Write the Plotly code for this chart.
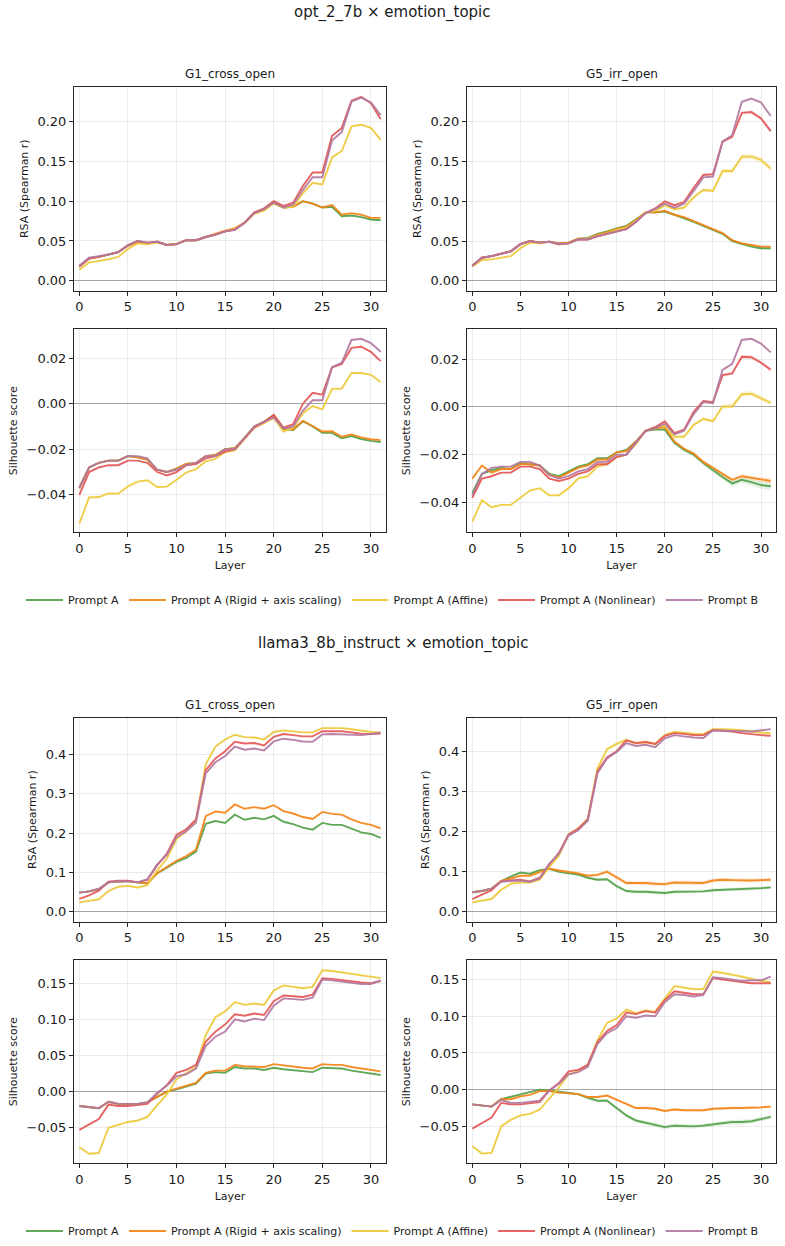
import plotly.graph_objects as go

LAYERS = list(range(32))
SERIES = ["Prompt A", "Prompt A (Rigid + axis scaling)", "Prompt A (Affine)", "Prompt A (Nonlinear)", "Prompt B"]
COLORS = ["#54a24b", "#f58518", "#eeca3b", "#e45756", "#b279a2"]
BAND_COLORS = ["rgba(84,162,75,0.16)", "rgba(245,133,24,0.16)", "rgba(238,202,59,0.2)", "rgba(228,87,86,0.16)", "rgba(178,121,162,0.16)"]
MODELS = ["opt_2_7b × emotion_topic", "llama3_8b_instruct × emotion_topic"]
CONDS = ["G1_cross_open", "G5_irr_open"]
X_TICKS = [0, 5, 10, 15, 20, 25, 30]

# ---------------- opt_2_7b, G1_cross_open, RSA ----------------
opt_g1_rsa_a = [0.018, 0.028, 0.030, 0.033, 0.036, 0.044, 0.049, 0.047, 0.049, 0.045, 0.046, 0.051, 0.051, 0.055, 0.058, 0.062,
                0.065, 0.073, 0.085, 0.089, 0.098, 0.092, 0.093, 0.100, 0.097, 0.092, 0.093, 0.081, 0.082, 0.080, 0.077, 0.076]
opt_g1_rsa_rigid = [0.018, 0.028, 0.030, 0.033, 0.036, 0.044, 0.049, 0.047, 0.049, 0.045, 0.046, 0.051, 0.051, 0.055, 0.059, 0.063,
                    0.066, 0.073, 0.085, 0.089, 0.098, 0.092, 0.093, 0.100, 0.097, 0.092, 0.095, 0.083, 0.085, 0.083, 0.079, 0.079]
opt_g1_rsa_affine = [0.014, 0.023, 0.025, 0.027, 0.030, 0.040, 0.047, 0.046, 0.048, 0.045, 0.046, 0.051, 0.051, 0.055, 0.058, 0.062,
                     0.065, 0.073, 0.084, 0.088, 0.097, 0.092, 0.093, 0.110, 0.123, 0.121, 0.155, 0.163, 0.194, 0.196, 0.192, 0.177]
opt_g1_rsa_nonlin = [0.018, 0.028, 0.030, 0.033, 0.036, 0.045, 0.050, 0.048, 0.049, 0.045, 0.046, 0.051, 0.051, 0.055, 0.058, 0.062,
                     0.064, 0.073, 0.086, 0.091, 0.100, 0.094, 0.098, 0.119, 0.136, 0.136, 0.182, 0.192, 0.226, 0.231, 0.223, 0.203]
opt_g1_rsa_b = [0.019, 0.029, 0.031, 0.033, 0.036, 0.045, 0.050, 0.048, 0.049, 0.045, 0.046, 0.051, 0.051, 0.055, 0.058, 0.062,
                0.064, 0.073, 0.085, 0.090, 0.098, 0.092, 0.096, 0.114, 0.130, 0.130, 0.176, 0.187, 0.225, 0.230, 0.224, 0.208]

# ---------------- opt_2_7b, G5_irr_open, RSA ----------------
opt_g5_rsa_a = [0.019, 0.029, 0.031, 0.034, 0.037, 0.046, 0.050, 0.048, 0.049, 0.047, 0.048, 0.053, 0.054, 0.059, 0.062, 0.066,
                0.069, 0.077, 0.086, 0.086, 0.087, 0.083, 0.079, 0.074, 0.069, 0.064, 0.059, 0.050, 0.046, 0.043, 0.041, 0.041]
opt_g5_rsa_rigid = [0.019, 0.029, 0.031, 0.034, 0.037, 0.046, 0.050, 0.048, 0.049, 0.047, 0.048, 0.053, 0.053, 0.058, 0.061, 0.065,
                    0.068, 0.076, 0.086, 0.086, 0.088, 0.083, 0.080, 0.075, 0.070, 0.065, 0.060, 0.051, 0.047, 0.045, 0.043, 0.043]
opt_g5_rsa_affine = [0.018, 0.026, 0.027, 0.029, 0.031, 0.041, 0.048, 0.047, 0.049, 0.046, 0.047, 0.052, 0.053, 0.057, 0.060, 0.064,
                     0.067, 0.075, 0.086, 0.088, 0.095, 0.090, 0.092, 0.105, 0.114, 0.113, 0.138, 0.138, 0.156, 0.156, 0.152, 0.141]
opt_g5_rsa_nonlin = [0.019, 0.029, 0.031, 0.034, 0.037, 0.046, 0.050, 0.048, 0.049, 0.046, 0.047, 0.052, 0.052, 0.056, 0.059, 0.062,
                     0.065, 0.074, 0.085, 0.091, 0.100, 0.095, 0.099, 0.117, 0.133, 0.134, 0.175, 0.181, 0.211, 0.212, 0.204, 0.188]
opt_g5_rsa_b = [0.019, 0.029, 0.031, 0.034, 0.037, 0.046, 0.050, 0.048, 0.049, 0.046, 0.047, 0.052, 0.052, 0.056, 0.059, 0.062,
                0.065, 0.074, 0.085, 0.090, 0.097, 0.092, 0.097, 0.113, 0.130, 0.131, 0.175, 0.183, 0.225, 0.229, 0.224, 0.207]
# spread (half-width of shaded band)
opt_g5_rsa_a_sd = [0.0005] * 20 + [0.0008, 0.0008, 0.001, 0.001, 0.001, 0.0012, 0.0012, 0.0012, 0.0014, 0.0014, 0.0015, 0.0015]
opt_g5_rsa_affine_sd = [0.0005] * 18 + [0.001, 0.0015, 0.002, 0.002, 0.002, 0.002, 0.0025, 0.0025, 0.003, 0.003, 0.0035, 0.0035, 0.0035, 0.0035]
opt_g5_rsa_nonlin_sd = [0.0005] * 20 + [0.001, 0.001, 0.001, 0.001, 0.0015, 0.0015, 0.002, 0.002, 0.002, 0.002, 0.002, 0.002]

# ---------------- opt_2_7b, G1_cross_open, Silhouette ----------------
opt_g1_sil_a = [-0.037, -0.028, -0.026, -0.025, -0.025, -0.023, -0.0235, -0.0245, -0.029, -0.030, -0.0285, -0.0265, -0.026, -0.023, -0.0225, -0.020,
                -0.0195, -0.015, -0.010, -0.008, -0.005, -0.011, -0.0115, -0.0077, -0.010, -0.0128, -0.0128, -0.0152, -0.0142, -0.0155, -0.0163, -0.0168]
opt_g1_sil_rigid = [-0.037, -0.028, -0.026, -0.025, -0.025, -0.023, -0.0235, -0.0245, -0.029, -0.030, -0.0285, -0.0265, -0.026, -0.023, -0.0225, -0.020,
                    -0.0195, -0.015, -0.010, -0.008, -0.005, -0.011, -0.0113, -0.0075, -0.0098, -0.0122, -0.0121, -0.0145, -0.0135, -0.0148, -0.0156, -0.0160]
opt_g1_sil_affine = [-0.0526, -0.0412, -0.041, -0.0394, -0.0395, -0.0363, -0.0342, -0.0336, -0.0366, -0.0364, -0.0334, -0.0302, -0.0287, -0.0253, -0.0242, -0.0212,
                     -0.0205, -0.0155, -0.0105, -0.0085, -0.0062, -0.0122, -0.0105, -0.0042, -0.001, -0.0025, 0.0065, 0.0067, 0.0135, 0.0135, 0.0127, 0.0095]
opt_g1_sil_nonlin = [-0.040, -0.030, -0.028, -0.027, -0.027, -0.025, -0.025, -0.026, -0.030, -0.0315, -0.030, -0.027, -0.0265, -0.024, -0.023, -0.021,
                     -0.020, -0.015, -0.0105, -0.008, -0.005, -0.0105, -0.009, 0.000, 0.0048, 0.004, 0.016, 0.0175, 0.0245, 0.025, 0.0228, 0.0187]
opt_g1_sil_b = [-0.037, -0.028, -0.026, -0.025, -0.025, -0.023, -0.023, -0.024, -0.029, -0.030, -0.029, -0.027, -0.026, -0.023, -0.023, -0.020,
                -0.020, -0.015, -0.010, -0.008, -0.006, -0.011, -0.010, -0.003, 0.0015, 0.0015, 0.016, 0.018, 0.028, 0.0285, 0.0266, 0.0228]

# ---------------- opt_2_7b, G5_irr_open, Silhouette ----------------
opt_g5_sil_a = [-0.036, -0.028, -0.0265, -0.0255, -0.026, -0.0235, -0.024, -0.0245, -0.028, -0.029, -0.027, -0.025, -0.024, -0.0215, -0.0215, -0.019,
                -0.018, -0.0145, -0.010, -0.0095, -0.0095, -0.015, -0.018, -0.020, -0.0235, -0.0265, -0.0293, -0.032, -0.0305, -0.0315, -0.0327, -0.0332]
opt_g5_sil_rigid = [-0.030, -0.0245, -0.0275, -0.026, -0.026, -0.024, -0.024, -0.0245, -0.0285, -0.0295, -0.0275, -0.0255, -0.0245, -0.022, -0.022, -0.019,
                    -0.0185, -0.0145, -0.010, -0.009, -0.0085, -0.0145, -0.0175, -0.0195, -0.023, -0.0255, -0.0283, -0.0305, -0.029, -0.0297, -0.0305, -0.031]
opt_g5_sil_affine = [-0.048, -0.039, -0.042, -0.041, -0.041, -0.038, -0.035, -0.034, -0.037, -0.037, -0.034, -0.030, -0.029, -0.025, -0.024, -0.021,
                     -0.020, -0.0155, -0.010, -0.0085, -0.008, -0.0125, -0.0125, -0.0075, -0.005, -0.006, 0.0002, 0.0002, 0.0053, 0.0055, 0.0037, 0.0017]
opt_g5_sil_nonlin = [-0.038, -0.030, -0.029, -0.0275, -0.0275, -0.025, -0.025, -0.026, -0.030, -0.031, -0.030, -0.028, -0.027, -0.024, -0.024, -0.021,
                     -0.020, -0.015, -0.010, -0.0085, -0.006, -0.011, -0.0095, -0.002, 0.0025, 0.002, 0.0133, 0.014, 0.021, 0.0208, 0.0185, 0.0155]
opt_g5_sil_b = [-0.037, -0.028, -0.0255, -0.025, -0.025, -0.023, -0.023, -0.0245, -0.0285, -0.030, -0.029, -0.027, -0.026, -0.023, -0.023, -0.020,
                -0.020, -0.015, -0.010, -0.009, -0.007, -0.0115, -0.010, -0.003, 0.002, 0.0015, 0.0155, 0.018, 0.028, 0.0285, 0.0265, 0.0228]
opt_g5_sil_a_sd = [0.0003] * 20 + [0.0005, 0.0006, 0.0007, 0.0008, 0.0009, 0.001, 0.0011, 0.0012, 0.0013, 0.0014, 0.0015, 0.0016]
opt_g5_sil_rigid_sd = [0.0003] * 20 + [0.0004, 0.0005, 0.0005, 0.0006, 0.0006, 0.0007, 0.0008, 0.0008, 0.0009, 0.0009, 0.001, 0.001]
opt_g5_sil_affine_sd = [0.0003] * 20 + [0.0005, 0.0005, 0.0006, 0.0006, 0.0007, 0.0008, 0.0009, 0.001, 0.001, 0.001, 0.001, 0.001]
opt_g5_sil_nonlin_sd = [0.0003] * 24 + [0.0005, 0.0005, 0.0006, 0.0007, 0.0008, 0.0008, 0.0008, 0.0008]

# ---------------- llama3_8b_instruct, G1_cross_open, RSA ----------------
llama_g1_rsa_a = [0.049, 0.052, 0.058, 0.075, 0.077, 0.078, 0.075, 0.072, 0.098, 0.113, 0.127, 0.137, 0.153, 0.224, 0.231, 0.226,
                  0.247, 0.234, 0.239, 0.235, 0.244, 0.229, 0.223, 0.214, 0.209, 0.226, 0.221, 0.221, 0.212, 0.202, 0.198, 0.188]
llama_g1_rsa_rigid = [0.049, 0.052, 0.058, 0.075, 0.077, 0.078, 0.075, 0.073, 0.098, 0.114, 0.130, 0.142, 0.158, 0.243, 0.255, 0.252,
                      0.273, 0.262, 0.266, 0.262, 0.271, 0.256, 0.250, 0.241, 0.236, 0.254, 0.249, 0.247, 0.235, 0.226, 0.221, 0.212]
llama_g1_rsa_affine = [0.024, 0.028, 0.032, 0.053, 0.064, 0.066, 0.062, 0.068, 0.105, 0.135, 0.185, 0.205, 0.230, 0.375, 0.420, 0.438,
                       0.450, 0.444, 0.443, 0.438, 0.457, 0.461, 0.459, 0.456, 0.456, 0.467, 0.467, 0.467, 0.464, 0.460, 0.457, 0.456]
llama_g1_rsa_nonlin = [0.033, 0.042, 0.054, 0.077, 0.079, 0.079, 0.075, 0.081, 0.118, 0.148, 0.196, 0.210, 0.235, 0.360, 0.390, 0.408,
                       0.432, 0.428, 0.429, 0.423, 0.445, 0.452, 0.449, 0.446, 0.446, 0.459, 0.459, 0.459, 0.456, 0.453, 0.452, 0.453]
llama_g1_rsa_b = [0.049, 0.052, 0.058, 0.075, 0.078, 0.078, 0.075, 0.083, 0.120, 0.145, 0.190, 0.205, 0.227, 0.352, 0.380, 0.396,
                  0.420, 0.412, 0.415, 0.410, 0.433, 0.440, 0.437, 0.433, 0.432, 0.451, 0.452, 0.451, 0.450, 0.449, 0.452, 0.455]

# ---------------- llama3_8b_instruct, G5_irr_open, RSA ----------------
llama_g5_rsa_a = [0.049, 0.052, 0.058, 0.076, 0.088, 0.098, 0.095, 0.104, 0.107, 0.100, 0.096, 0.093, 0.085, 0.080, 0.081, 0.064,
                  0.052, 0.050, 0.050, 0.048, 0.047, 0.050, 0.050, 0.050, 0.051, 0.054, 0.055, 0.056, 0.056, 0.057, 0.059, 0.061]
llama_g5_rsa_rigid = [0.049, 0.052, 0.058, 0.077, 0.083, 0.090, 0.090, 0.100, 0.108, 0.103, 0.100, 0.096, 0.090, 0.092, 0.100, 0.085,
                      0.072, 0.072, 0.072, 0.070, 0.069, 0.073, 0.073, 0.072, 0.072, 0.078, 0.080, 0.079, 0.078, 0.078, 0.079, 0.080]
llama_g5_rsa_affine = [0.024, 0.028, 0.032, 0.055, 0.070, 0.073, 0.073, 0.080, 0.112, 0.140, 0.193, 0.208, 0.232, 0.357, 0.405, 0.418,
                       0.428, 0.420, 0.423, 0.418, 0.440, 0.448, 0.445, 0.443, 0.442, 0.455, 0.455, 0.454, 0.452, 0.449, 0.446, 0.444]
llama_g5_rsa_nonlin = [0.032, 0.042, 0.054, 0.076, 0.078, 0.080, 0.076, 0.085, 0.118, 0.147, 0.193, 0.207, 0.230, 0.350, 0.385, 0.400,
                       0.427, 0.420, 0.423, 0.418, 0.438, 0.445, 0.443, 0.440, 0.440, 0.452, 0.451, 0.449, 0.445, 0.442, 0.440, 0.438]
llama_g5_rsa_b = [0.049, 0.052, 0.058, 0.075, 0.077, 0.078, 0.075, 0.083, 0.120, 0.145, 0.190, 0.203, 0.227, 0.345, 0.382, 0.398,
                  0.420, 0.413, 0.416, 0.410, 0.432, 0.440, 0.437, 0.434, 0.433, 0.452, 0.451, 0.450, 0.449, 0.449, 0.452, 0.455]
llama_g5_rsa_a_sd = [0.001] * 8 + [0.002, 0.002, 0.002, 0.002, 0.003, 0.003, 0.003, 0.004] + [0.004] * 16
llama_g5_rsa_rigid_sd = [0.001] * 8 + [0.002, 0.002, 0.002, 0.003, 0.003, 0.004, 0.005, 0.005] + [0.005] * 16
llama_g5_rsa_affine_sd = [0.001] * 13 + [0.003, 0.004, 0.004] + [0.004] * 16

# ---------------- llama3_8b_instruct, G1_cross_open, Silhouette ----------------
llama_g1_sil_a = [-0.020, -0.022, -0.023, -0.014, -0.017, -0.017, -0.017, -0.015, -0.008, 0.000, 0.003, 0.007, 0.011, 0.025, 0.027, 0.026,
                  0.034, 0.032, 0.032, 0.030, 0.033, 0.031, 0.030, 0.028, 0.027, 0.033, 0.032, 0.032, 0.029, 0.027, 0.025, 0.023]
llama_g1_sil_rigid = [-0.020, -0.022, -0.023, -0.014, -0.017, -0.017, -0.017, -0.015, -0.008, 0.000, 0.004, 0.008, 0.012, 0.026, 0.029, 0.029,
                      0.037, 0.035, 0.035, 0.034, 0.038, 0.036, 0.035, 0.033, 0.032, 0.038, 0.037, 0.037, 0.034, 0.032, 0.030, 0.028]
llama_g1_sil_affine = [-0.077, -0.086, -0.085, -0.050, -0.046, -0.042, -0.040, -0.035, -0.019, -0.004, 0.017, 0.026, 0.034, 0.078, 0.103, 0.111,
                       0.124, 0.120, 0.122, 0.120, 0.140, 0.147, 0.145, 0.143, 0.145, 0.168, 0.167, 0.165, 0.162, 0.160, 0.158, 0.157]
llama_g1_sil_nonlin = [-0.053, -0.045, -0.038, -0.018, -0.020, -0.020, -0.019, -0.017, -0.003, 0.009, 0.026, 0.030, 0.037, 0.069, 0.083, 0.093,
                       0.107, 0.105, 0.108, 0.106, 0.125, 0.133, 0.132, 0.131, 0.134, 0.157, 0.156, 0.154, 0.152, 0.151, 0.150, 0.153]
llama_g1_sil_b = [-0.020, -0.022, -0.023, -0.014, -0.017, -0.017, -0.017, -0.015, -0.002, 0.008, 0.021, 0.024, 0.032, 0.063, 0.076, 0.083,
                  0.100, 0.097, 0.101, 0.099, 0.119, 0.129, 0.128, 0.127, 0.130, 0.155, 0.154, 0.152, 0.150, 0.149, 0.149, 0.154]

# ---------------- llama3_8b_instruct, G5_irr_open, Silhouette ----------------
llama_g5_sil_a = [-0.020, -0.022, -0.023, -0.013, -0.010, -0.006, -0.004, 0.000, -0.001, -0.003, -0.005, -0.006, -0.011, -0.015, -0.015, -0.025,
                  -0.035, -0.042, -0.045, -0.048, -0.051, -0.049, -0.050, -0.050, -0.049, -0.047, -0.045, -0.044, -0.044, -0.043, -0.040, -0.037]
llama_g5_sil_rigid = [-0.020, -0.022, -0.023, -0.013, -0.013, -0.009, -0.007, -0.002, -0.002, -0.004, -0.005, -0.006, -0.010, -0.010, -0.008, -0.014,
                      -0.019, -0.025, -0.025, -0.026, -0.029, -0.027, -0.028, -0.028, -0.028, -0.026, -0.025, -0.025, -0.025, -0.025, -0.024, -0.023]
llama_g5_sil_affine = [-0.077, -0.087, -0.086, -0.050, -0.041, -0.035, -0.033, -0.027, -0.012, 0.003, 0.021, 0.025, 0.034, 0.067, 0.091, 0.097,
                       0.109, 0.104, 0.108, 0.106, 0.124, 0.141, 0.139, 0.137, 0.137, 0.161, 0.159, 0.157, 0.154, 0.151, 0.149, 0.146]
llama_g5_sil_nonlin = [-0.053, -0.045, -0.038, -0.018, -0.020, -0.020, -0.019, -0.017, -0.001, 0.009, 0.025, 0.027, 0.034, 0.065, 0.080, 0.088,
                       0.105, 0.103, 0.107, 0.105, 0.122, 0.134, 0.132, 0.130, 0.130, 0.152, 0.150, 0.148, 0.146, 0.145, 0.145, 0.145]
llama_g5_sil_b = [-0.020, -0.022, -0.023, -0.014, -0.018, -0.018, -0.017, -0.015, -0.001, 0.008, 0.021, 0.024, 0.031, 0.062, 0.077, 0.084,
                  0.100, 0.098, 0.101, 0.100, 0.119, 0.130, 0.129, 0.127, 0.129, 0.153, 0.152, 0.150, 0.148, 0.149, 0.149, 0.154]
llama_g5_sil_a_sd = [0.001] * 12 + [0.0015, 0.0015, 0.002, 0.002, 0.0025, 0.0025] + [0.003] * 14
llama_g5_sil_rigid_sd = [0.001] * 14 + [0.0015, 0.0015, 0.002, 0.002] + [0.002] * 14
llama_g5_sil_affine_sd = [0.001] * 16 + [0.002] * 16

PANELS = [
    # (series list, band spreads by series index, metric, y range, y ticks, tick format)
    ([opt_g1_rsa_a, opt_g1_rsa_rigid, opt_g1_rsa_affine, opt_g1_rsa_nonlin, opt_g1_rsa_b], {}, "rsa",
     [-0.0122, 0.2435], [0.0, 0.05, 0.10, 0.15, 0.20], ".2f"),
    ([opt_g5_rsa_a, opt_g5_rsa_rigid, opt_g5_rsa_affine, opt_g5_rsa_nonlin, opt_g5_rsa_b],
     {0: opt_g5_rsa_a_sd, 2: opt_g5_rsa_affine_sd, 3: opt_g5_rsa_nonlin_sd}, "rsa",
     [-0.0122, 0.2437], [0.0, 0.05, 0.10, 0.15, 0.20], ".2f"),
    ([opt_g1_sil_a, opt_g1_sil_rigid, opt_g1_sil_affine, opt_g1_sil_nonlin, opt_g1_sil_b], {}, "sil",
     [-0.0564, 0.0326], [-0.04, -0.02, 0.0, 0.02], ".2f"),
    ([opt_g5_sil_a, opt_g5_sil_rigid, opt_g5_sil_affine, opt_g5_sil_nonlin, opt_g5_sil_b],
     {0: opt_g5_sil_a_sd, 1: opt_g5_sil_rigid_sd, 2: opt_g5_sil_affine_sd, 3: opt_g5_sil_nonlin_sd}, "sil",
     [-0.0524, 0.0324], [-0.04, -0.02, 0.0, 0.02], ".2f"),
    ([llama_g1_rsa_a, llama_g1_rsa_rigid, llama_g1_rsa_affine, llama_g1_rsa_nonlin, llama_g1_rsa_b], {}, "rsa",
     [-0.0245, 0.493], [0.0, 0.1, 0.2, 0.3, 0.4], ".1f"),
    ([llama_g5_rsa_a, llama_g5_rsa_rigid, llama_g5_rsa_affine, llama_g5_rsa_nonlin, llama_g5_rsa_b],
     {0: llama_g5_rsa_a_sd, 1: llama_g5_rsa_rigid_sd, 2: llama_g5_rsa_affine_sd}, "rsa",
     [-0.024, 0.483], [0.0, 0.1, 0.2, 0.3, 0.4], ".1f"),
    ([llama_g1_sil_a, llama_g1_sil_rigid, llama_g1_sil_affine, llama_g1_sil_nonlin, llama_g1_sil_b], {}, "sil",
     [-0.099, 0.1815], [-0.05, 0.0, 0.05, 0.10, 0.15], ".2f"),
    ([llama_g5_sil_a, llama_g5_sil_rigid, llama_g5_sil_affine, llama_g5_sil_nonlin, llama_g5_sil_b],
     {0: llama_g5_sil_a_sd, 1: llama_g5_sil_rigid_sd, 2: llama_g5_sil_affine_sd}, "sil",
     [-0.100, 0.176], [-0.05, 0.0, 0.05, 0.10, 0.15], ".2f"),
]

W, H = 785, 1246
X_DOMAINS = [[74 / W, 386 / W], [467 / W, 776 / W]]
Y_BOXES = [(87, 291), (87, 291), (330, 533), (330, 533), (719, 923), (719, 923), (962, 1165), (962, 1165)]

FONT = "DejaVu Sans"
AX_COLOR = "#262626"
TXT = "#1a1a1a"

fig = go.Figure()
layout_axes = {}
for i, (series, bands, metric, yr, yt, fmt) in enumerate(PANELS):
    n = i + 1
    xa = "x" if n == 1 else f"x{n}"
    ya = "y" if n == 1 else f"y{n}"
    legend_id = "legend" if i < 4 else "legend2"
    # shaded spread bands first (drawn beneath lines)
    for s_idx, sd in bands.items():
        vals = series[s_idx]
        upper = [v + d for v, d in zip(vals, sd)]
        lower = [v - d for v, d in zip(vals, sd)]
        fig.add_trace(go.Scatter(
            x=LAYERS + LAYERS[::-1], y=upper + lower[::-1], mode="lines", fill="toself",
            fillcolor=BAND_COLORS[s_idx], line=dict(width=0), xaxis=xa, yaxis=ya,
            showlegend=False, hoverinfo="skip", legend=legend_id,
        ))
    for s_idx, vals in enumerate(series):
        fig.add_trace(go.Scatter(
            x=LAYERS, y=vals, mode="lines", name=SERIES[s_idx],
            line=dict(color=COLORS[s_idx], width=1.9), opacity=0.92,
            xaxis=xa, yaxis=ya, legend=legend_id,
            showlegend=(i in (0, 4)), hoverinfo="skip",
        ))
    col = i % 2
    top, bot = Y_BOXES[i]
    is_sil = metric == "sil"
    layout_axes[f"xaxis{n}" if n > 1 else "xaxis"] = dict(
        domain=X_DOMAINS[col], anchor=ya, range=[-0.55, 31.55],
        tickmode="array", tickvals=X_TICKS, ticks="outside", ticklen=4, tickwidth=1, tickcolor=AX_COLOR,
        showline=True, linecolor=AX_COLOR, linewidth=1, mirror=True,
        showgrid=True, gridcolor="#ebebeb", gridwidth=1, zeroline=False,
        tickfont=dict(size=13, color=TXT, family=FONT),
        title=dict(text="Layer" if is_sil else "", font=dict(size=11, color=TXT, family=FONT), standoff=6),
    )
    layout_axes[f"yaxis{n}" if n > 1 else "yaxis"] = dict(
        domain=[1 - bot / H, 1 - top / H], anchor=xa, range=yr,
        tickmode="array", tickvals=yt, tickformat=fmt, ticks="outside", ticklen=4, tickwidth=1, tickcolor=AX_COLOR,
        showline=True, linecolor=AX_COLOR, linewidth=1, mirror=True,
        showgrid=True, gridcolor="#ebebeb", gridwidth=1,
        zeroline=True, zerolinecolor="#a6a6a6", zerolinewidth=1,
        tickfont=dict(size=13, color=TXT, family=FONT),
        title=dict(text="Silhouette score" if is_sil else "RSA (Spearman r)",
                   font=dict(size=11, color=TXT, family=FONT), standoff=6),
    )

annotations = []
for m_idx, (title_y, sub_y) in enumerate([(13, 74), (645, 706)]):
    annotations.append(dict(text=MODELS[m_idx], x=0.5, y=1 - title_y / H, xref="paper", yref="paper",
                            showarrow=False, xanchor="center", yanchor="middle",
                            font=dict(size=15, color=TXT, family=FONT)))
    for c in range(2):
        annotations.append(dict(text=CONDS[c], x=sum(X_DOMAINS[c]) / 2, y=1 - sub_y / H, xref="paper", yref="paper",
                                showarrow=False, xanchor="center", yanchor="middle",
                                font=dict(size=12, color=TXT, family=FONT)))

legend_common = dict(orientation="h", xanchor="center", x=0.5, yanchor="middle",
                     font=dict(size=11, color=TXT, family=FONT), bgcolor="rgba(0,0,0,0)",
                     itemwidth=37, tracegroupgap=0)

fig.update_layout(
    width=W, height=H, margin=dict(l=0, r=0, t=0, b=0),
    paper_bgcolor="white", plot_bgcolor="white",
    font=dict(family=FONT, color=TXT),
    annotations=annotations,
    legend=dict(y=1 - 601 / H, **legend_common),
    legend2=dict(y=1 - 1233 / H, **legend_common),
    **layout_axes,
)

fig.write_html("out.html")
